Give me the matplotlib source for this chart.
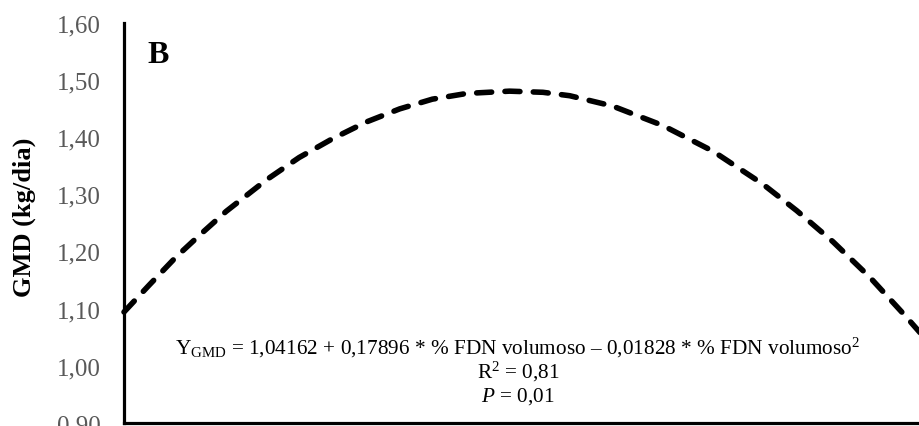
import matplotlib
matplotlib.use("Agg")
import matplotlib.pyplot as plt

# Data (x = % FDN volumoso, y = GMD kg/dia)
fdn_x = [0.30, 0.60, 0.92, 1.20, 1.52, 2.00, 2.39, 2.79, 3.19, 3.59, 3.98, 4.39,
         4.90, 5.30, 5.62, 6.13, 6.73, 7.33, 7.92, 8.33, 8.76, 9.20, 9.62, 9.80]
gmd_y = [1.094, 1.141, 1.190, 1.228, 1.270, 1.325, 1.364, 1.397, 1.426, 1.449,
         1.466, 1.476, 1.480, 1.478, 1.472, 1.454, 1.420, 1.375, 1.318, 1.271,
         1.217, 1.155, 1.088, 1.058]
y_ticks = [0.90, 1.00, 1.10, 1.20, 1.30, 1.40, 1.50, 1.60]
y_tick_labels = ["0,90", "1,00", "1,10", "1,20", "1,30", "1,40", "1,50", "1,60"]

plt.rcParams['font.family'] = ['Liberation Serif', 'DejaVu Serif']
plt.rcParams['mathtext.fontset'] = 'custom'
plt.rcParams['mathtext.rm'] = 'Liberation Serif'
plt.rcParams['mathtext.it'] = 'Liberation Serif:italic'
plt.rcParams['mathtext.bf'] = 'Liberation Serif:bold'

W, H = 920, 427
fig = plt.figure(figsize=(W / 100, H / 100), dpi=100)
ax = fig.add_axes([124 / W, (H - 424) / H, (920 - 124) / W, (424 - 23.5) / H])

ax.plot(fdn_x, gmd_y, color='black', lw=4.0, linestyle=(0, (2.7, 2.4)),
        dash_capstyle='round', solid_capstyle='round', clip_on=False)

ax.set_xlim(0.30, 9.80)
ax.set_ylim(0.90, 1.60)
ax.set_yticks(y_ticks)
ax.set_yticklabels(y_tick_labels, fontsize=18, color='#595959')
ax.set_xticks([])
ax.tick_params(axis='y', length=0, pad=16.5)
for s in ['top', 'right']:
    ax.spines[s].set_visible(False)
for s in ['left', 'bottom']:
    ax.spines[s].set_linewidth(2.3)
    ax.spines[s].set_color('black')

fig.text(24 / W, 1 - 217 / H, "GMD (kg/dia)", rotation=90, fontsize=19,
         fontweight='bold', ha='center', va='center')
fig.text(147 / W, 1 - 63 / H, "B", fontsize=23, fontweight='bold',
         ha='left', va='baseline')

eq = (r"Y$_{\mathrm{GMD}}$ = 1,04162 + 0,17896 * % FDN volumoso – "
      r"0,01828 * % FDN volumoso$^{2}$")
fig.text(518 / W, 1 - 348 / H, eq, fontsize=15.3, ha='center', va='center')
fig.text(518 / W, 1 - 372 / H, r"R$^{2}$ = 0,81", fontsize=15.3, ha='center', va='center')
fig.text(518 / W, 1 - 397 / H, r"$P$ = 0,01", fontsize=15.3, ha='center', va='center')

fig.savefig("out.png", dpi=100, facecolor='white')
